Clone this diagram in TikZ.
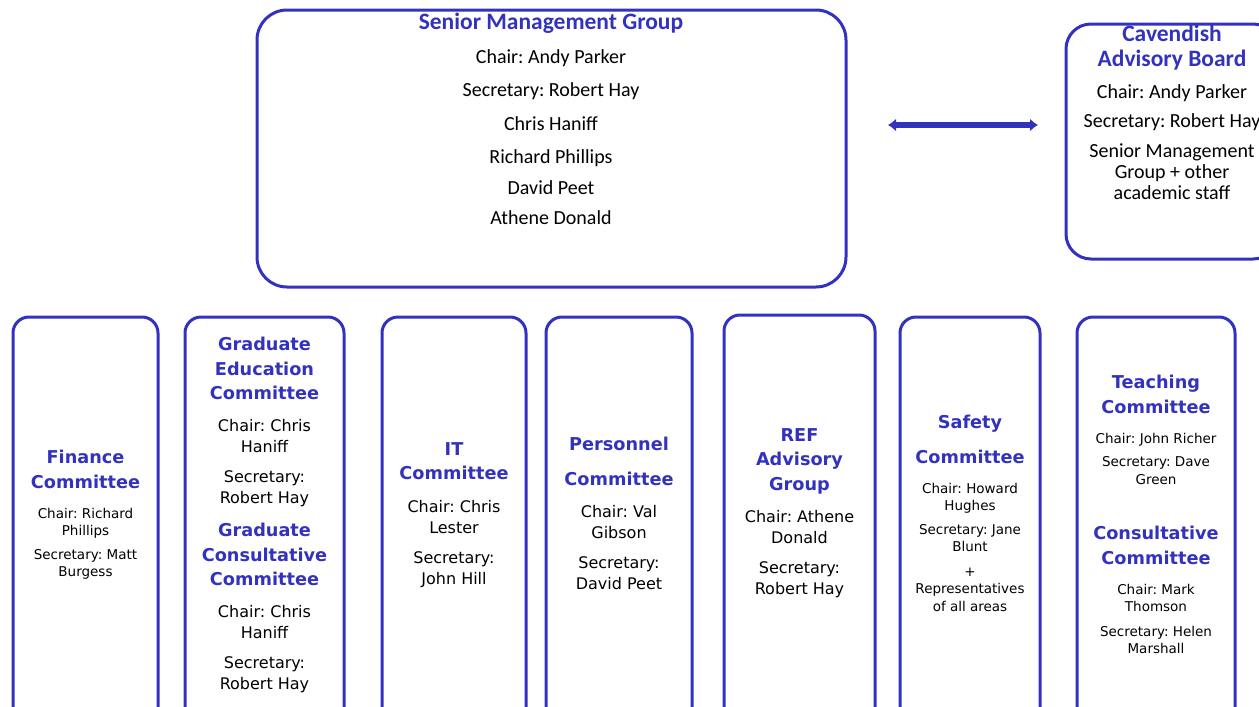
\documentclass[tikz,border=0pt]{standalone}
\usepackage{fontspec}
\setmainfont{DejaVu Sans}
\newfontfamily\calfont{Carlito}
\usetikzlibrary{arrows.meta}
\definecolor{cavblue}{RGB}{50,50,190}
\frenchspacing

\begin{document}
\begin{tikzpicture}[x=1pt,y=-1pt,
  panel/.style={draw=cavblue,line width=3pt,rounded corners=16pt,
                anchor=north west,inner sep=0pt,outer sep=0pt},
  head/.style={anchor=north,inner sep=0pt,align=center,text=cavblue,
               font=\bfseries\fontsize{17.7}{24.5}\selectfont},
  body/.style={anchor=north,inner sep=0pt,align=center,
               font=\fontsize{16}{21}\selectfont},
  small/.style={anchor=north,inner sep=0pt,align=center,
                font=\fontsize{13.5}{17.5}\selectfont},
  tophead/.style={head,font=\calfont\bfseries\fontsize{23.5}{25}\selectfont},
  topbody/.style={body,font=\calfont\fontsize{20}{21}\selectfont}]
\useasboundingbox (0,0) rectangle (1259,707);
% Senior Management Group
\node[panel,rounded corners=30pt,minimum width=589,minimum height=277] (smg) at (257,10) {};
\node[tophead] (smgtitle) at (551,12.6) {Senior Management Group};
\node[topbody,font=\calfont\fontsize{20}{30}\selectfont] (smgtext) at (551,49.5)
  {Chair: Andy Parker\\[3pt]Secretary: Robert Hay\\[4pt]Chris Haniff\\[3pt]Richard Phillips\\[1pt]David Peet\\Athene Donald};
% Cavendish Advisory Board
\node[panel,rounded corners=25pt,minimum width=212,minimum height=235] (cab) at (1066,24) {};
\node[tophead] (cabtitle) at (1172,24.6) {Cavendish\\Advisory Board};
\node[topbody] (cabtext) at (1172,84)
  {Chair: Andy Parker\\[8pt]Secretary: Robert Hay\\[9pt]Senior Management\\Group + other\\academic staff};
% link
\coordinate (al) at (888,125);
\coordinate (ar) at (1038,125);
\draw[cavblue,line width=6pt,{Latex[length=8pt,width=13pt]}-{Latex[length=8pt,width=13pt]}] (al) -- (ar);
% committees
\node[panel,minimum width=145,minimum height=413] (fin) at (13,317) {};
\node[head] (fintitle) at (85.5,450) {Finance\\Committee};
\node[small] (fintext) at (85.5,507.6) {Chair: Richard\\Phillips\\[6pt]Secretary: Matt\\Burgess};

\node[panel,minimum width=159,minimum height=413] (grad) at (185,317) {};
\node[head] (gradtitle) at (264.5,337) {Graduate\\Education\\Committee};
\node[body] (gradtext) at (264.5,419.6) {Chair: Chris\\Haniff\\[9pt]Secretary:\\Robert Hay};
\node[head] (gcctitle) at (264.5,523) {Graduate\\Consultative\\Committee};
\node[body] (gcctext) at (264.5,605.6) {Chair: Chris\\Haniff\\[9pt]Secretary:\\Robert Hay};

\node[panel,minimum width=144,minimum height=413] (it) at (382,317) {};
\node[head] (ittitle) at (454,442) {IT\\Committee};
\node[body] (ittext) at (454,500.6) {Chair: Chris\\Lester\\[9pt]Secretary:\\John Hill};

\node[panel,minimum width=146,minimum height=413] (pers) at (546,317) {};
\node[head] (perstitle) at (619,437) {Personnel\\[10.5pt]Committee};
\node[body] (perstext) at (619,505.6) {Chair: Val\\Gibson\\[9pt]Secretary:\\David Peet};

\node[panel,minimum width=151,minimum height=415] (ref) at (724,315) {};
\node[head] (reftitle) at (799.5,428) {REF\\Advisory\\Group};
\node[body] (reftext) at (799.5,510.6) {Chair: Athene\\Donald\\[9pt]Secretary:\\Robert Hay};

\node[panel,minimum width=140,minimum height=413] (safe) at (900,317) {};
\node[head] (safetitle) at (970,415) {Safety\\[10.5pt]Committee};
\node[small] (safetext) at (970,482.6)
  {Chair: Howard\\Hughes\\[6pt]Secretary: Jane\\Blunt\\[7pt]+\\Representatives\\of all areas};

\node[panel,minimum width=158,minimum height=413] (teach) at (1077,317) {};
\node[head] (teachtitle) at (1156,375) {Teaching\\Committee};
\node[small] (teachtext) at (1156,432.6) {Chair: John Richer\\[6pt]Secretary: Dave\\Green};
\node[head] (constitle) at (1156,526) {Consultative\\Committee};
\node[small] (constext) at (1156,583.6) {Chair: Mark\\Thomson\\[7pt]Secretary: Helen\\Marshall};
\end{tikzpicture}
\end{document}
